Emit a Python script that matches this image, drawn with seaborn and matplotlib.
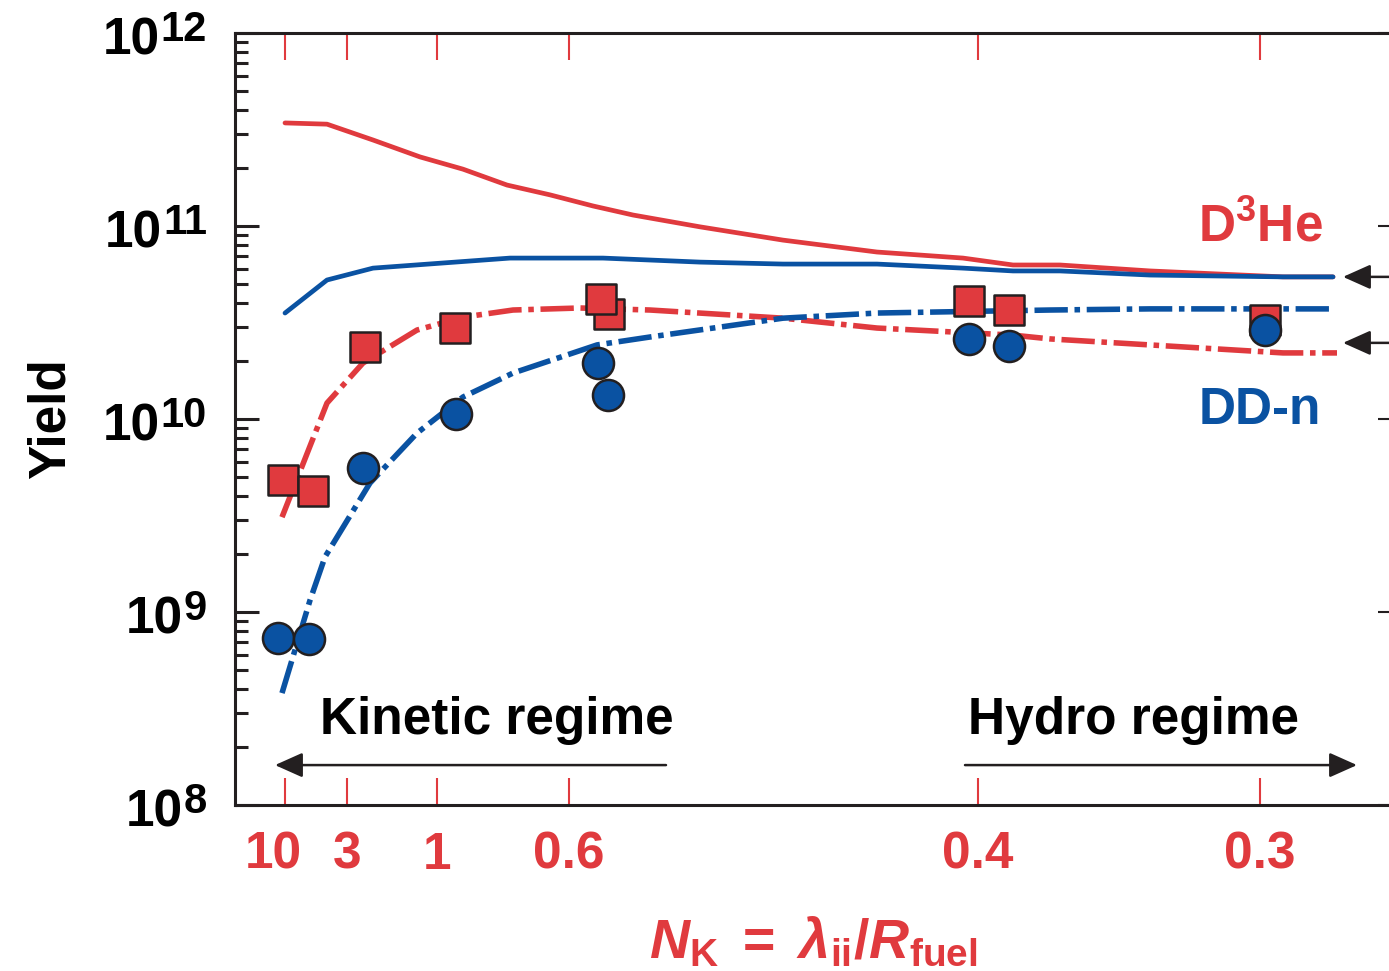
import numpy as np
import pandas as pd
import matplotlib
matplotlib.use("Agg")
import matplotlib.pyplot as plt
import matplotlib.transforms as mtransforms
import seaborn as sns

# ---------------- data ----------------
# x positions along the (nonlinear) N_K axis, arbitrary units
tick_pos = [5.0, 11.2, 20.2, 33.4, 74.3, 102.5]
tick_labels = ["10", "3", "1", "0.6", "0.4", "0.3"]
y_exponents = [8, 9, 10, 11, 12]

sim_d3he_x = [5.0, 9.2, 13.8, 18.5, 22.8, 27.2, 31.5, 35.8, 39.8, 46.5, 54.8, 64.2, 72.8, 77.8, 82.5, 91.5, 104.8, 109.8]
sim_d3he_y = [3.42e11, 3.37e11, 2.79e11, 2.28e11, 1.97e11, 1.63e11, 1.45e11, 1.27e11, 1.14e11, 9.9e10, 8.45e10,
              7.33e10, 6.82e10, 6.28e10, 6.28e10, 5.85e10, 5.45e10, 5.45e10]

sim_ddn_x = [5.0, 9.2, 13.8, 27.5, 36.8, 46.5, 54.8, 64.2, 72.8, 77.8, 82.5, 91.5, 104.8, 109.8]
sim_ddn_y = [3.54e10, 5.25e10, 6.05e10, 6.82e10, 6.82e10, 6.5e10, 6.35e10, 6.35e10, 6.05e10, 5.85e10, 5.85e10,
             5.57e10, 5.45e10, 5.45e10]

fit_d3he_x = [4.7, 9.2, 12.8, 18.2, 22.8, 27.8, 34.5, 41.5, 54.8, 64.2, 77.8, 81.5, 91.5, 104.8, 110.2]
fit_d3he_y = [3.1e9, 1.21e10, 1.95e10, 2.89e10, 3.37e10, 3.67e10, 3.76e10, 3.67e10, 3.33e10, 2.96e10, 2.72e10,
              2.6e10, 2.42e10, 2.2e10, 2.2e10]

fit_ddn_x = [4.7, 7.5, 9.0, 13.5, 18.2, 22.8, 27.8, 36.2, 41.5, 54.8, 64.2, 81.5, 91.5, 109.8]
fit_ddn_y = [3.8e8, 1.15e9, 1.93e9, 4.66e9, 8.45e9, 1.3e10, 1.73e10, 2.42e10, 2.66e10, 3.33e10, 3.54e10,
             3.67e10, 3.72e10, 3.72e10]

meas_d3he_x = [4.8, 7.8, 13.0, 22.0, 37.4, 36.6, 73.4, 77.4, 103.0]
meas_d3he_y = [4.83e9, 4.24e9, 2.36e10, 2.96e10, 3.5e10, 4.19e10, 4.08e10, 3.67e10, 3.26e10]

meas_ddn_x = [4.3, 7.4, 12.8, 22.1, 36.3, 37.3, 73.4, 77.4, 103.0]
meas_ddn_y = [7.33e8, 7.24e8, 5.57e9, 1.06e10, 1.95e10, 1.33e10, 2.6e10, 2.39e10, 2.89e10]

# ---------------- style ----------------
RED = "#E03A3E"
BLUE = "#0A52A2"
BLACK = "#231F20"

sns.set_style("white")
plt.rcParams["font.family"] = ["Liberation Sans", "DejaVu Sans"]
plt.rcParams["font.weight"] = "bold"
plt.rcParams["axes.labelweight"] = "bold"
plt.rcParams["mathtext.fontset"] = "custom"
plt.rcParams["mathtext.rm"] = "Liberation Sans:bold"
plt.rcParams["mathtext.bf"] = "Liberation Sans:bold"
plt.rcParams["mathtext.it"] = "Liberation Sans:italic:bold"
plt.rcParams["mathtext.bfit"] = "Liberation Sans:italic:bold"

fig = plt.figure(figsize=(13.89, 9.71), dpi=100)
W, H = 1389.0, 971.0
ax = fig.add_axes([235 / W, 1 - 805 / H, (1392 - 235) / W, (805 - 33) / H])
ax.set_yscale("log")
ax.set_ylim(1e8, 1e12)
ax.set_xlim(0, 115.7)

# lines
lw_solid = 3.4
lw_dd = 4.0
dd = (0, (6.0, 1.2, 1.0, 1.2))
sns.lineplot(x=sim_d3he_x, y=sim_d3he_y, ax=ax, color=RED, linewidth=lw_solid, sort=False, estimator=None, zorder=2)
sns.lineplot(x=sim_ddn_x, y=sim_ddn_y, ax=ax, color=BLUE, linewidth=lw_solid, sort=False, estimator=None, zorder=2)
sns.lineplot(x=fit_d3he_x, y=fit_d3he_y, ax=ax, color=RED, linewidth=lw_dd, linestyle=dd, sort=False,
             estimator=None, zorder=2)
sns.lineplot(x=fit_ddn_x, y=fit_ddn_y, ax=ax, color=BLUE, linewidth=lw_dd, linestyle=dd, sort=False,
             estimator=None, zorder=2)
for i, ln in enumerate(ax.lines[:4]):
    ln.set_linewidth(lw_solid if i < 2 else lw_dd)
    ln.set_solid_joinstyle("round")

# markers
sns.scatterplot(x=meas_d3he_x, y=meas_d3he_y, ax=ax, marker="s", s=470, color=RED,
                edgecolor=BLACK, linewidth=1.8, zorder=5)
sns.scatterplot(x=meas_ddn_x, y=meas_ddn_y, ax=ax, marker="o", s=500, color=BLUE,
                edgecolor=BLACK, linewidth=1.8, zorder=6)

# spines
for sp in ax.spines.values():
    sp.set_color(BLACK)
    sp.set_linewidth(2.2)

# x axis
ax.set_xticks(tick_pos)
ax.set_xticklabels(tick_labels)
ax.xaxis.set_minor_locator(matplotlib.ticker.NullLocator())
ax.tick_params(axis="x", which="major", direction="in", length=19.5, width=1.5, color=RED,
               top=True, bottom=True, labelcolor=RED, labelsize=37, pad=18.5)
lbl0 = ax.get_xticklabels()[0]
lbl0.set_transform(lbl0.get_transform() + mtransforms.ScaledTranslation(-0.12, 0, fig.dpi_scale_trans))
ax.set_xlabel(r"$\mathbfit{N}_{\mathbf{K}}\;=\;\mathbfit{\lambda}_{\mathbf{ii}}/\mathbfit{R}_{\mathbf{fuel}}$",
              color=RED, fontsize=40, labelpad=26)

# y axis
ax.yaxis.set_major_locator(matplotlib.ticker.FixedLocator([10.0 ** e for e in y_exponents]))
ax.yaxis.set_minor_locator(matplotlib.ticker.LogLocator(base=10, subs=np.arange(2, 10), numticks=20))
ax.yaxis.set_major_formatter(matplotlib.ticker.NullFormatter())
ax.yaxis.set_minor_formatter(matplotlib.ticker.NullFormatter())
ax.tick_params(axis="y", which="major", direction="in", length=17, width=2.2, color=BLACK,
               left=True, right=False)
ax.tick_params(axis="y", which="minor", direction="in", length=9.4, width=2.2, color=BLACK,
               left=True, right=False)

# y tick labels: "10" with a large superscript exponent
px = 0.72  # points per pixel
renderer = fig.canvas.get_renderer()
for e in y_exponents:
    sup = ax.annotate(str(e), xy=(0, 10.0 ** e), xycoords=("axes fraction", "data"),
                      xytext=(-28 * px, -8 * px), textcoords="offset points",
                      ha="right", va="baseline", fontsize=30, color="black")
    w = sup.get_window_extent(renderer).width
    ax.annotate("10", xy=(0, 10.0 ** e), xycoords=("axes fraction", "data"),
                xytext=(-(28 + w + 1) * px, -21 * px), textcoords="offset points",
                ha="right", va="baseline", fontsize=37, color="black")

ax.set_ylabel("Yield", fontsize=37, color="black")
ax.yaxis.set_label_coords(-0.138, 0.5)

# right-side ticks via twin axis
ax2 = ax.twinx()
ax2.set_yscale("log")
ax2.set_ylim(ax.get_ylim())
ax2.yaxis.set_major_locator(matplotlib.ticker.FixedLocator([10.0 ** e for e in y_exponents]))
ax2.yaxis.set_minor_locator(matplotlib.ticker.LogLocator(base=10, subs=np.arange(2, 10), numticks=20))
ax2.yaxis.set_major_formatter(matplotlib.ticker.NullFormatter())
ax2.yaxis.set_minor_formatter(matplotlib.ticker.NullFormatter())
ax2.tick_params(axis="y", which="major", direction="in", length=10, width=1.5, color=BLACK)
ax2.tick_params(axis="y", which="minor", direction="in", length=1.5, width=1.5, color=BLACK)
for sp in ax2.spines.values():
    sp.set_visible(False)

# annotations
ax.text(102.5, 9.8e10, r"$\mathbf{D^{3}He}$", color=RED, fontsize=37, ha="center", va="center")
ax.text(102.5, 1.11e10, "DD-n", color=BLUE, fontsize=37, ha="center", va="center")
ax.text(26.2, 2.75e8, "Kinetic regime", color="black", fontsize=37, ha="center", va="center")
ax.text(89.9, 2.75e8, "Hydro regime", color="black", fontsize=37, ha="center", va="center")

arrow_kw = dict(arrowstyle="-|>,head_length=0.85,head_width=0.38", color=BLACK, lw=1.8,
                mutation_scale=20, shrinkA=0, shrinkB=0)
ax.annotate("", xy=(4.0, 1.61e8), xytext=(43.1, 1.61e8), arrowprops=arrow_kw)
ax.annotate("", xy=(112.2, 1.61e8), xytext=(73.0, 1.61e8), arrowprops=arrow_kw)
ax.annotate("", xy=(110.8, 5.45e10), xytext=(118, 5.45e10), arrowprops=arrow_kw, annotation_clip=False)
ax.annotate("", xy=(110.8, 2.48e10), xytext=(118, 2.48e10), arrowprops=arrow_kw, annotation_clip=False)

fig.savefig("out.png", dpi=100)
